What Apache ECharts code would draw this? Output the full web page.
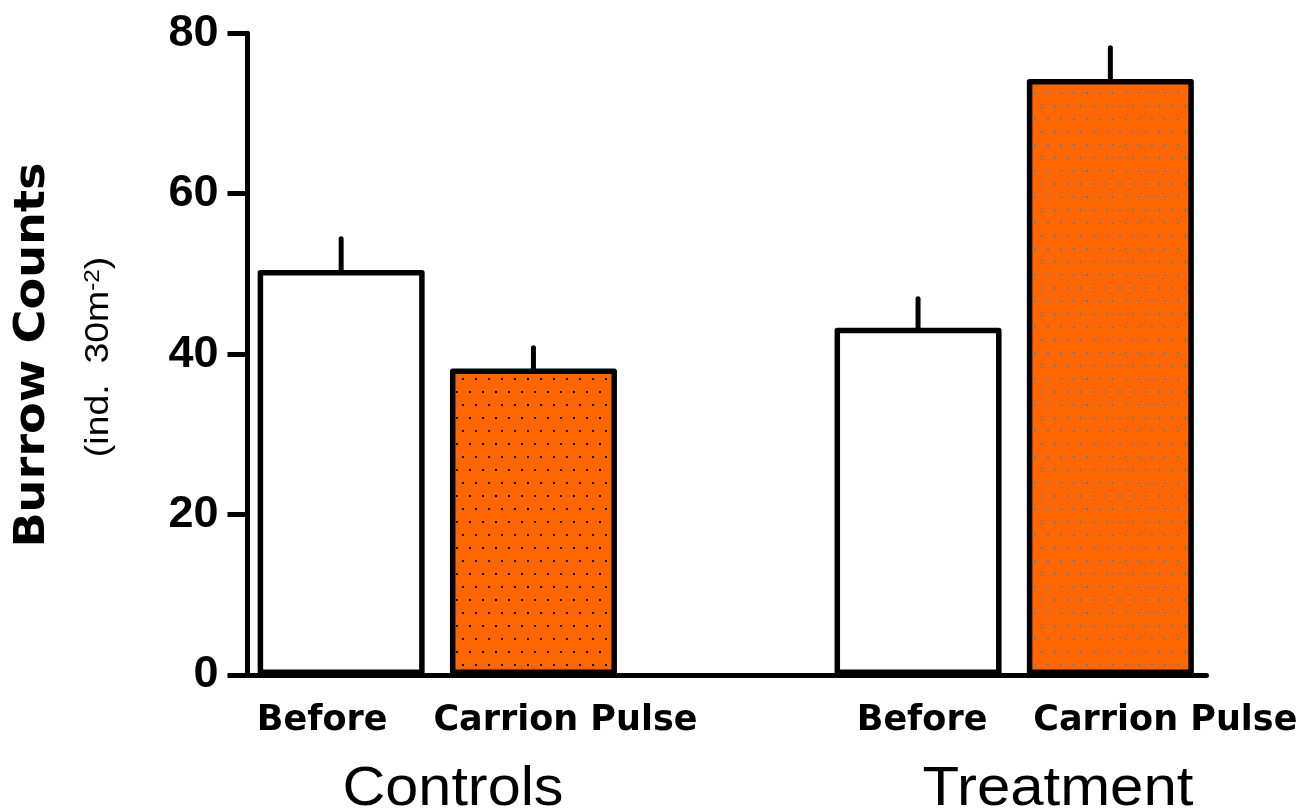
<!DOCTYPE html>
<html>
<head>
<meta charset="utf-8">
<script src="https://cdn.jsdelivr.net/npm/echarts@6/dist/echarts.min.js"></script>
<style>
  html, body { margin: 0; padding: 0; background: #fff; }
  #chart { width: 1304px; height: 812px; }
</style>
</head>
<body>
<div id="chart"></div>
<script>
// Burrow counts before and after the carrion pulse, controls vs treatment plots
const stages = ['Before', 'Carrion Pulse', '', 'Before', 'Carrion Pulse'];
const groups = ['Controls', 'Treatment'];
const meanCounts = [50.5, 38.2, null, 43.3, 74.3];
const stdErrors = [3.9, 2.6, null, 3.6, 3.9];
const yTicks = [0, 20, 40, 60, 80];

// Fill for each slot: plain white for the baseline, dotted orange for the pulse
const fills = ['plain', 'dotsDark', null, 'plain', 'dotsGrey'];

function dotPattern(dotColor) {
  const c = document.createElement('canvas');
  c.width = 26; c.height = 26;
  const g = c.getContext('2d');
  g.fillStyle = '#ff6600';
  g.fillRect(0, 0, 26, 26);
  g.fillStyle = dotColor;
  [[1, 1], [14, 1], [7, 14], [20, 14]].forEach(([x, y]) => g.fillRect(x, y, 2, 2));
  return c;
}
const fillStyles = {
  plain: '#ffffff',
  dotsDark: { image: dotPattern('#000000'), repeat: 'repeat' },
  dotsGrey: { image: dotPattern('#5a82a2'), repeat: 'repeat' }
};

// Horizontal nudge of each category label, in px
const labelShift = [-19, 32, 0, 4, 55];
const rich = {};
labelShift.forEach((dx, i) => {
  rich['s' + i] = {
    fontFamily: 'DejaVu Sans', fontWeight: 'bold', fontSize: 35, color: '#000',
    padding: dx >= 0 ? [0, 0, 0, 2 * dx] : [0, -2 * dx, 0, 0]
  };
});

const barData = meanCounts.map((v, i) => v == null ? '-' : ({
  value: v,
  itemStyle: { color: fillStyles[fills[i]] }
}));
const errData = meanCounts
  .map((v, i) => [i, v, stdErrors[i]])
  .filter(d => d[1] != null);

const chart = echarts.init(document.getElementById('chart'), null, { renderer: 'canvas' });

chart.setOption({
  backgroundColor: '#ffffff',
  animation: false,
  grid: { left: 245, right: 97.5, top: 33.3, bottom: 137 },
  xAxis: [{
    type: 'category',
    data: stages,
    axisLine: { show: true, lineStyle: { color: '#000', width: 5, cap: 'round' } },
    axisTick: { show: false },
    axisLabel: {
      interval: 0,
      margin: 28,
      formatter: (val, idx) => val ? '{s' + idx + '|' + val + '}' : '',
      rich: rich
    },
    splitLine: { show: false }
  }],
  yAxis: [{
    type: 'value',
    min: 0, max: 80, interval: 20,
    offset: -2.5,
    axisLine: { show: true, lineStyle: { color: '#000', width: 5 } },
    axisTick: { show: true, length: 20, lineStyle: { color: '#000', width: 5 } },
    axisLabel: {
      margin: 29,
      fontFamily: 'Liberation Sans', fontWeight: 'bold', fontSize: 45, color: '#000',
      formatter: v => yTicks.includes(v) ? String(v) : ''
    },
    splitLine: { show: false }
  }],
  series: [
    {
      type: 'bar',
      data: barData,
      barWidth: 167,
      itemStyle: { borderColor: '#000', borderWidth: 5.5, borderJoin: 'round' },
      z: 2
    },
    {
      type: 'custom',
      data: errData,
      encode: { x: 0, y: 1 },
      z: 3,
      renderItem: (params, api) => {
        const i = api.value(0), m = api.value(1), e = api.value(2);
        const p0 = api.coord([i, m]);
        const p1 = api.coord([i, m + e]);
        return {
          type: 'line',
          shape: { x1: p0[0], y1: p0[1], x2: p1[0], y2: p1[1] },
          style: { stroke: '#000', lineWidth: 5, lineCap: 'round' }
        };
      }
    }
  ],
  graphic: [
    {
      type: 'text', x: 33, y: 355, rotation: Math.PI / 2, scaleX: 1.1,
      style: {
        text: 'Burrow Counts', textAlign: 'center', textVerticalAlign: 'middle',
        font: 'bold 42px "DejaVu Sans"', fill: '#000'
      }
    },
    {
      type: 'text', x: 99, y: 357, rotation: Math.PI / 2, scaleX: 1.1,
      style: {
        text: '{a|(ind.  30m}{b|-2}{a|)}', textAlign: 'center', textVerticalAlign: 'middle',
        rich: {
          a: { fontFamily: 'Liberation Sans', fontSize: 34, fill: '#000' },
          b: { fontFamily: 'Liberation Sans', fontSize: 22, fill: '#000', verticalAlign: 'top' }
        }
      }
    },
    {
      type: 'text', x: 453, y: 790, scaleX: 1.06,
      style: {
        text: groups[0], textAlign: 'center', textVerticalAlign: 'middle',
        font: '56px "Liberation Sans"', fill: '#000'
      }
    },
    {
      type: 'text', x: 1058, y: 790, scaleX: 1.07,
      style: {
        text: groups[1], textAlign: 'center', textVerticalAlign: 'middle',
        font: '56px "Liberation Sans"', fill: '#000'
      }
    }
  ]
});
</script>
</body>
</html>
